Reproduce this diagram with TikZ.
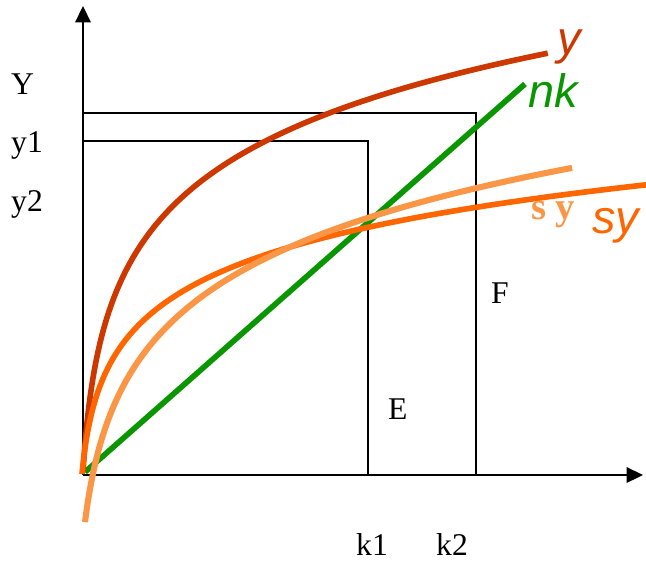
\documentclass[tikz,border=0pt]{standalone}
\usepackage{fontspec}
\setmainfont{Liberation Serif}
\newfontfamily\arialfont{Liberation Sans}
\definecolor{red1}{RGB}{205, 55, 0}
\definecolor{orange1}{RGB}{255, 102, 0}
\definecolor{orange2}{RGB}{250, 150, 70}
\definecolor{green1}{RGB}{10, 150, 0}
\usetikzlibrary{arrows.meta}

\begin{document}
\begin{tikzpicture}[x=0.03cm, y=-0.03cm,
    axis/.style={line width=2.5pt, -{Triangle[length=14pt, width=13pt]}},
    level/.style={line width=1.1pt},
    curve/.style={line width=4.8pt},
    lab/.style={inner sep=0pt, anchor=base west, font=\fontsize{27}{32}\selectfont},
    curvelab/.style={inner sep=0pt, anchor=base west, font=\fontsize{40}{48}\selectfont\arialfont\itshape}]
  \useasboundingbox (0,0) rectangle (646,564);

  % axes
  \coordinate (O) at (83,475);
  \coordinate (ytip) at (83,6);
  \coordinate (xtip) at (643,475);
  \draw[axis] (O) -- (ytip);
  \draw[axis] (O) -- (xtip);

  % levels Y, y1 and capital k1, k2
  \coordinate (k1) at (368,475);
  \coordinate (k2) at (476,475);
  \coordinate (Ylev) at (83,113);
  \coordinate (y1lev) at (83,141);
  \draw[level] (Ylev) -- (Ylev -| k2) -- (k2);
  \draw[level] (y1lev) -- (y1lev -| k1) -- (k1);

  % curves
  \draw[curve, green1] (85,472) -- (525,84) coordinate (nkend);
  \draw[curve, red1] plot[domain=0:21.56, samples=90, variable=\t]
    ({83+\t*\t}, {472-96*ln(1+\t*\t/6)});
  \draw[curve, orange1] plot[domain=0:23.75, samples=90, variable=\t]
    ({82+\t*\t}, {474-63.5*ln(1+\t*\t/6)});
  \draw[curve, orange2, line width=5.2pt] plot[domain=0:22.07, samples=90, variable=\t]
    ({85+\t*\t}, {522-95*ln(1+\t*\t/12)});

  % labels
  \node[lab] (Ylab) at (11,95) {Y};
  \node[lab] (y1lab) at (11,153) {y1};
  \node[lab] (y2lab) at (11,211) {y2};
  \node[lab] (k1lab) at (356,555) {k1};
  \node[lab] (k2lab) at (436,555) {k2};
  \node[lab] (Elab) at (388,419) {E};
  \node[lab] (Flab) at (491,303) {F};
  \node[curvelab, red1] (ylab) at (557,55) {y};
  \node[curvelab, green1] (nklab) at (528,108) {nk};
  \node[curvelab, orange1] (sylab) at (592,233) {sy};
  \node[lab, orange2, font=\fontsize{33}{40}\selectfont\bfseries] (sylab2) at (531,219) {s y};
\end{tikzpicture}
\end{document}
